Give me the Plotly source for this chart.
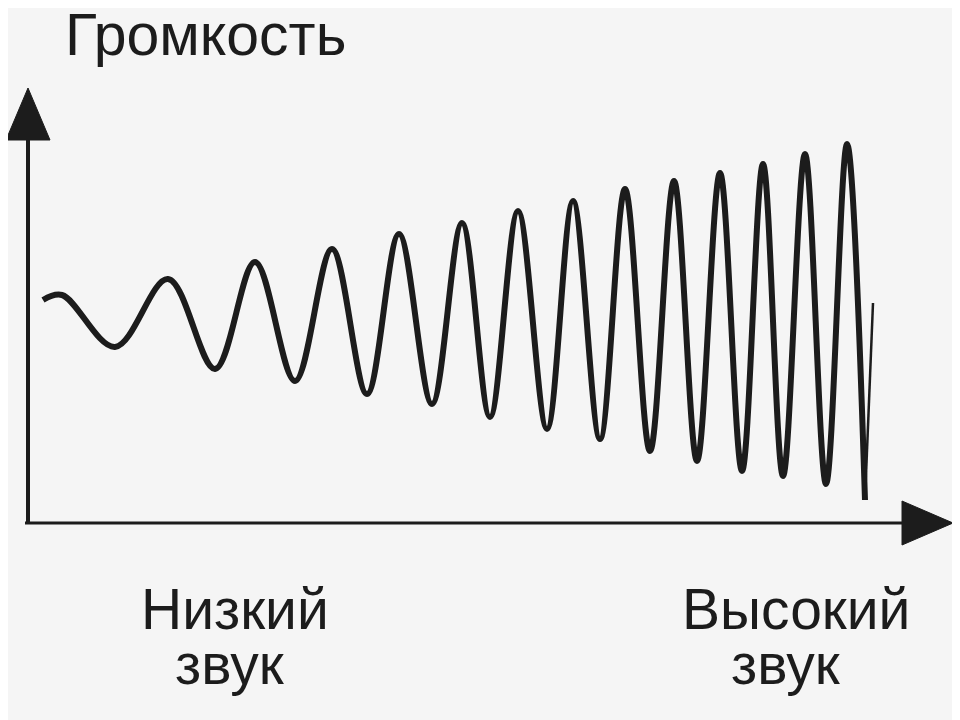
import plotly.graph_objects as go

# Wave: successive peaks and troughs (time, loudness),
# origin at the corner of the axes
time = [15, 34, 87, 140, 187, 227, 267, 304, 339, 371, 404, 434, 462, 490, 519,
        545, 572, 597, 622, 646, 669, 692, 714, 735, 755, 777, 798, 819, 837, 845]
loudness = [223, 228, 176, 244, 154, 261, 142, 274, 129, 289, 119, 300, 106, 312, 94,
            322, 84, 334, 72, 342, 62, 350, 52, 359, 47, 369, 39, 379, 23, 220]

y_title = "Громкость"
low_label = ["Низкий", "звук"]
high_label = ["Высокий", "звук"]

INK = "#1c1c1c"
BG = "#f5f5f5"
FONT = "Liberation Sans, Arial, sans-serif"

W, H = 952, 712   # page has an 8px body margin
OFF = 8

fig = go.Figure()
fig.add_trace(go.Scatter(
    x=time[:-1], y=loudness[:-1], mode="lines",
    line=dict(color=INK, width=6, shape="spline", smoothing=1.0),
    hoverinfo="skip", showlegend=False))
fig.add_trace(go.Scatter(
    x=time[-2:], y=loudness[-2:], mode="lines",
    line=dict(color=INK, width=2.5),
    hoverinfo="skip", showlegend=False))

shapes = [
    # axes
    dict(type="line", xref="x", yref="y", x0=0, y0=0, x1=0, y1=385,
         line=dict(color=INK, width=4)),
    dict(type="line", xref="x", yref="y", x0=-3, y0=0, x1=876, y1=0,
         line=dict(color=INK, width=3)),
    # arrow heads
    dict(type="path", xref="x", yref="y", path="M -22,383 L 0,435 L 22,383 Z",
         fillcolor=INK, line=dict(color=INK, width=1)),
    dict(type="path", xref="x", yref="y", path="M 874,22 L 925,0 L 874,-22 Z",
         fillcolor=INK, line=dict(color=INK, width=1)),
]

def px_x(v):
    return (v - OFF) / W

def px_y(v):
    return 1 - (v - OFF) / H

annotations = [
    dict(text=y_title, x=px_x(205), y=px_y(35), font=dict(size=59)),
    dict(text=low_label[0], x=px_x(235), y=px_y(609), font=dict(size=57)),
    dict(text=low_label[1], x=px_x(230), y=px_y(664), font=dict(size=57)),
    dict(text=high_label[0], x=px_x(796), y=px_y(609), font=dict(size=57)),
    dict(text=high_label[1], x=px_x(786), y=px_y(664), font=dict(size=57)),
]
for a in annotations:
    a.update(xref="paper", yref="paper", xanchor="center", yanchor="middle",
             showarrow=False)
    a["font"].update(family=FONT, color=INK)

# axis ranges chosen so that the axes corner sits where it is in the picture
x0 = -(28 - OFF)
y1 = 523 - OFF
fig.update_layout(
    width=W, height=H, autosize=False,
    margin=dict(l=0, r=0, t=0, b=0),
    paper_bgcolor=BG, plot_bgcolor=BG,
    xaxis=dict(range=[x0, x0 + W], visible=False, fixedrange=True),
    yaxis=dict(range=[y1 - H, y1], visible=False, fixedrange=True),
    shapes=shapes, annotations=annotations,
)

fig.write_html("out.html")
